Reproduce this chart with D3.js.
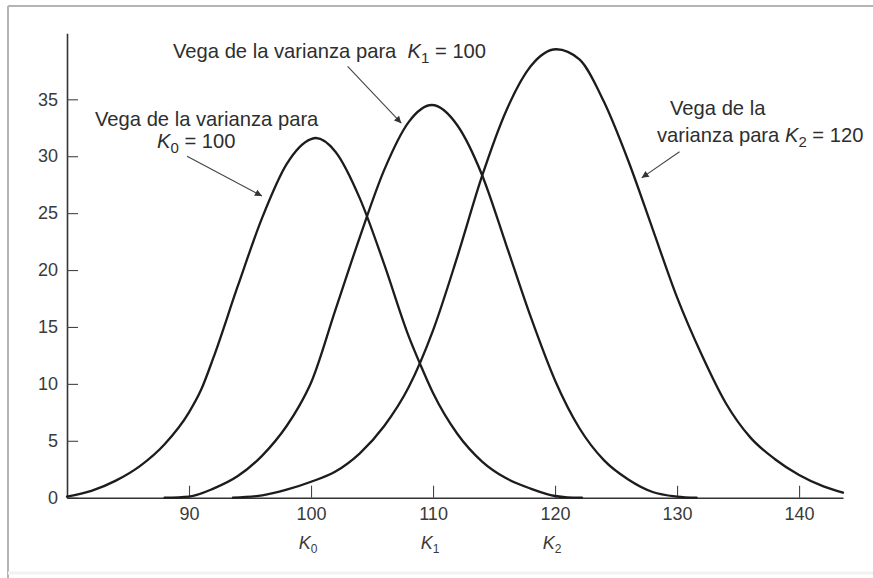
<!DOCTYPE html>
<html>
<head>
<meta charset="utf-8">
<script src="https://cdn.jsdelivr.net/npm/d3@7"></script>
<style>
  html, body { margin: 0; padding: 0; background: #fff; }
  svg { display: block; font-family: "Liberation Sans", Arial, Helvetica, sans-serif; }
</style>
</head>
<body>
<svg id="chart" width="873" height="578"></svg>
<script>
// Vega of the variance for three strikes, as a function of the stock price
const curveK0 = [
  [80, 0.1], [82, 0.6], [84, 1.5], [86, 2.8], [88, 4.7], [90, 7.5], [91, 9.5],
  [92, 12.3], [94, 18.6], [96, 24.6], [98, 29.3], [100, 31.5], [100.4, 31.6],
  [102, 30.4], [104, 26.3], [106, 20.5], [108, 14.2], [109, 11.6], [110, 9.2],
  [112, 5.6], [114, 3.2], [116, 1.7], [118, 0.8], [120, 0.15], [121, 0.03], [122.2, 0]
];
const curveK1 = [
  [88, 0], [90, 0.1], [92, 0.8], [94, 1.9], [96, 3.7], [98, 6.3], [99, 8.0],
  [100, 10.1], [102, 16.5], [104, 22.9], [106, 28.8], [108, 33.0], [109.9, 34.5],
  [112, 32.7], [114, 28.4], [116, 22.2], [118, 15.9], [120, 10.3], [122, 6.1],
  [124, 3.3], [126, 1.6], [128, 0.5], [130, 0.1], [131.6, 0]
];
const curveK2 = [
  [93.6, 0], [96, 0.2], [98, 0.7], [100, 1.4], [102, 2.3], [104, 3.9], [106, 6.3],
  [108, 9.7], [110, 14.7], [112, 21.2], [114, 28.2], [116, 34.0], [118, 37.9],
  [120.1, 39.4], [122, 38.5], [124, 34.8], [126, 29.6], [128, 23.6], [130, 17.6],
  [132, 12.6], [134, 8.3], [136, 5.3], [138, 3.4], [140, 2.0], [142, 1.0], [143.6, 0.45]
];
const xTicks = [90, 100, 110, 120, 130, 140];
const yTicks = [0, 5, 10, 15, 20, 25, 30, 35];
const strikeValues = [100, 110, 120];
const strikeSubs = ["0", "1", "2"];

const svg = d3.select("#chart");
const ink = "#1c1c1c";
const textInk = "#2e2e2e";

// page frame
svg.append("line").attr("x1", 8).attr("x2", 873).attr("y1", 6).attr("y2", 6)
  .attr("stroke", "#b4b4b4").attr("stroke-width", 2);
svg.append("line").attr("x1", 8).attr("x2", 8).attr("y1", 6).attr("y2", 578)
  .attr("stroke", "#b4b4b4").attr("stroke-width", 2);
svg.append("line").attr("x1", 8).attr("x2", 873).attr("y1", 573).attr("y2", 573)
  .attr("stroke", "#f2f2f2").attr("stroke-width", 3);

const x = d3.scaleLinear().domain([80, 143.6]).range([67, 843]);
const y = d3.scaleLinear().domain([0, 40.8]).range([497.7, 33.3]);

// axes
const yAxis = svg.append("g").attr("transform", `translate(${x(80)},0)`)
  .call(d3.axisLeft(y).tickValues(yTicks).tickSizeInner(-11).tickSizeOuter(0).tickPadding(9));
const xAxis = svg.append("g").attr("transform", `translate(0,${y(0)})`)
  .call(d3.axisBottom(x).tickValues(xTicks).tickSizeInner(-12).tickSizeOuter(0).tickPadding(10));
[yAxis, xAxis].forEach(g => {
  g.select(".domain").attr("stroke", "#333").attr("stroke-width", 1.6);
  g.selectAll(".tick line").attr("stroke", "#444").attr("stroke-width", 1.1);
  g.selectAll(".tick text").attr("fill", "#3a3a3a").attr("font-size", 18)
    .attr("font-family", "Liberation Sans, Arial, sans-serif");
});

// strike labels under the axis
const kLab = svg.append("g").selectAll("text").data(strikeValues).join("text")
  .attr("x", d => x(d) - 3).attr("y", 549).attr("text-anchor", "middle")
  .attr("fill", "#3a3a3a").attr("font-size", 18);
kLab.append("tspan").attr("font-style", "italic").text("K");
kLab.append("tspan").attr("font-size", 12).attr("dy", 4).text((d, i) => strikeSubs[i]);

// curves
const line = d3.line().x(d => x(d[0])).y(d => y(d[1])).curve(d3.curveMonotoneX);
svg.append("g").selectAll("path").data([curveK0, curveK1, curveK2]).join("path")
  .attr("d", line).attr("fill", "none").attr("stroke", ink)
  .attr("stroke-width", 2.3).attr("stroke-linejoin", "round").attr("stroke-linecap", "round");

// annotation arrows
svg.append("defs").append("marker").attr("id", "head")
  .attr("viewBox", "0 0 10 10").attr("refX", 10).attr("refY", 5)
  .attr("markerWidth", 10).attr("markerHeight", 7).attr("markerUnits", "userSpaceOnUse")
  .attr("orient", "auto")
  .append("path").attr("d", "M0,0 L10,5 L0,10 Z").attr("fill", "#333");
const arrows = [
  { from: [89.84, 30.0], to: [95.98, 26.5] },
  { from: [103.0, 37.9], to: [107.4, 32.9] },
  { from: [130.2, 30.4], to: [127.1, 28.1] }
];
svg.append("g").selectAll("line").data(arrows).join("line")
  .attr("x1", d => x(d.from[0])).attr("y1", d => y(d.from[1]))
  .attr("x2", d => x(d.to[0])).attr("y2", d => y(d.to[1]))
  .attr("stroke", "#444").attr("stroke-width", 1.1).attr("marker-end", "url(#head)");

// annotation text
function label(xp, yp, parts, anchor) {
  const t = svg.append("text").attr("x", xp).attr("y", yp)
    .attr("font-size", 20.2).attr("fill", textInk).attr("text-anchor", anchor || "start");
  parts.forEach(p => {
    const s = t.append("tspan").text(p.t);
    if (p.i) s.attr("font-style", "italic");
    if (p.sub) s.attr("font-size", 15).attr("dy", 5);
    if (p.up) s.attr("dy", -5);
  });
}
label(95, 126, [{ t: "Vega de la varianza para" }]);
label(157, 148, [{ t: "K", i: true }, { t: "0", sub: true }, { t: " = 100", up: true }]);
label(173, 58, [{ t: "Vega de la varianza para\u00a0\u00a0" }, { t: "K", i: true }, { t: "1", sub: true }, { t: " = 100", up: true }]);
label(670, 115, [{ t: "Vega de la" }]);
label(657, 142, [{ t: "varianza para\u00a0" }, { t: "K", i: true }, { t: "2", sub: true }, { t: " = 120", up: true }]);
</script>
</body>
</html>
